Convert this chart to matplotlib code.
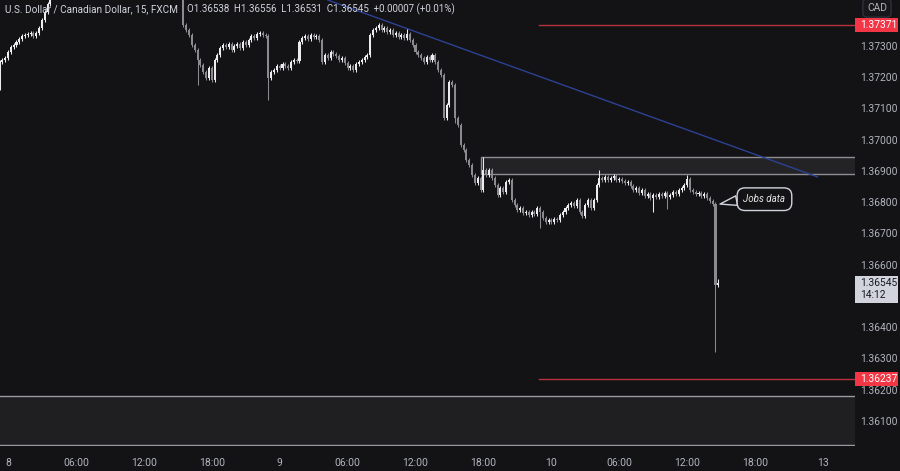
import numpy as np
import matplotlib
matplotlib.use("Agg")
import matplotlib.pyplot as plt
from matplotlib.patches import Rectangle

plt.rcParams['font.family'] = ['Roboto', 'DejaVu Sans']

# ------------------------------------------------------------------ data
# 15-minute USDCAD candles; bar index 0 = day "8" 00:00, 96 bars per day
first_bar = -3
closes_day8 = [1.37252, 1.37258, 1.37264, 1.37284, 1.37300, 1.37306, 1.37316, 1.37325,
               1.37335, 1.37338, 1.37341, 1.37344, 1.37335, 1.37344, 1.37360, 1.37386,
               1.37412, 1.37437, 1.37460]
hidden_bars = 46          # bars trading above the visible price range
closes_rest = [
    1.37370, 1.37354, 1.37338, 1.37306, 1.37290, 1.37258, 1.37242, 1.37220, 1.37200, 1.37232,
    1.37194, 1.37258, 1.37274, 1.37296, 1.37306, 1.37300, 1.37309, 1.37290, 1.37303, 1.37309,
    1.37296, 1.37316, 1.37306, 1.37322, 1.37335, 1.37328, 1.37341, 1.37344, 1.37338, 1.37335,
    1.37200, 1.37220, 1.37226, 1.37239, 1.37232, 1.37245, 1.37239, 1.37232, 1.37252, 1.37258,
    1.37255, 1.37316, 1.37328, 1.37335, 1.37325, 1.37338, 1.37332, 1.37335, 1.37322, 1.37252,
    1.37274, 1.37264, 1.37284, 1.37277, 1.37271, 1.37258, 1.37264, 1.37248, 1.37232, 1.37239,
    1.37226, 1.37245, 1.37252, 1.37258, 1.37268, 1.37274, 1.37338, 1.37354, 1.37360, 1.37370,
    1.37354, 1.37360, 1.37348, 1.37354, 1.37338, 1.37344, 1.37332, 1.37338, 1.37328, 1.37341,
    1.37322, 1.37306, 1.37284, 1.37274, 1.37264, 1.37252, 1.37268, 1.37258, 1.37274, 1.37252,
    1.37226, 1.37210, 1.37072, 1.37114, 1.37188, 1.37178, 1.37072, 1.37050, 1.36986, 1.36970,
    1.36938, 1.36922, 1.36890, 1.36864, 1.36880, 1.36842, 1.36906, 1.36890, 1.36906, 1.36880,
    1.36858, 1.36826, 1.36848, 1.36836, 1.36868, 1.36874, 1.36810, 1.36794, 1.36778, 1.36784,
    1.36768, 1.36772, 1.36762, 1.36772, 1.36765, 1.36784, 1.36772, 1.36752, 1.36740, 1.36746,
    1.36740, 1.36749, 1.36746, 1.36762, 1.36772, 1.36784, 1.36794, 1.36800, 1.36791, 1.36810,
    1.36772, 1.36759, 1.36794, 1.36810, 1.36784, 1.36810, 1.36858, 1.36880, 1.36874, 1.36884,
    1.36874, 1.36880, 1.36887, 1.36874, 1.36877, 1.36871, 1.36864, 1.36868, 1.36855, 1.36842,
    1.36848, 1.36832, 1.36842, 1.36823, 1.36829, 1.36816, 1.36826, 1.36820, 1.36829, 1.36823,
    1.36832, 1.36820, 1.36826, 1.36836, 1.36829, 1.36842, 1.36848, 1.36858, 1.36877, 1.36842,
    1.36836, 1.36829, 1.36832, 1.36823, 1.36829, 1.36816, 1.36806, 1.36797, 1.36538, 1.36545,
]
open_override = {-3: 1.37242, 62: 1.37480}
high_override = {62: 1.37490, 141: 1.37357, 168: 1.36948, 209: 1.36906, 240: 1.36890,
                 251: 1.36556}
low_override = {-3: 1.37162, 67: 1.37178, 92: 1.37130, 158: 1.37056, 188: 1.36720,
                228: 1.36772, 233: 1.36781, 250: 1.36324, 251: 1.36531}
default_wick = 0.00006

tick_bars = [0, 24, 48, 72, 96, 120, 144, 168, 192, 216, 240, 264, 288]
tick_labels = ["8", "06:00", "12:00", "18:00", "9", "06:00", "12:00", "18:00",
               "10", "06:00", "12:00", "18:00", "13"]
price_ticks = [1.373, 1.372, 1.371, 1.370, 1.369, 1.368, 1.367, 1.366,
               1.364, 1.363, 1.362, 1.361]

trend_start = (113.0, 1.37450)
trend_end = (286.0, 1.36884)
zone_start_bar = 167.0
zone_top, zone_bottom = 1.36948, 1.36894
lower_zone_top, lower_zone_bottom = 1.36183, 1.36025
red_levels = [1.37371, 1.36237]
red_start_bar = 187.6
symbol_title = "U.S. Dollar / Canadian Dollar, 15, FXCM"
countdown = "14:12"
currency = "CAD"

# ------------------------------------------------------------------ build OHLC
closes = np.array(closes_day8 + [np.nan] * hidden_bars + closes_rest)
bars = np.arange(first_bar, first_bar + len(closes))
opens = np.empty_like(closes)
prev = np.nan
for k, (b, c) in enumerate(zip(bars, closes)):
    opens[k] = open_override.get(int(b), prev)
    prev = c
highs = np.array([high_override.get(int(b), max(o, c) + default_wick)
                  for b, o, c in zip(bars, opens, closes)])
lows = np.array([low_override.get(int(b), min(o, c) - default_wick)
                 for b, o, c in zip(bars, opens, closes)])

# ------------------------------------------------------------------ style
BG = "#131316"
UP = "#ececef"
DOWN = "#8a8a8f"
AXIS_TXT = "#b2b5be"
W, H = 900, 471
plot_w, axis_h = 855, 25

fig = plt.figure(figsize=(W / 100, H / 100), dpi=100, facecolor=BG)
ax = fig.add_axes([0, axis_h / H, plot_w / W, 1 - axis_h / H])
ax.set_facecolor(BG)
ymax = 1.37450
ymin = ymax - (H - axis_h) * 0.000032
ax.set_ylim(ymin, ymax)
ax.set_xlim(-2.83, 299.3)
for s in ax.spines.values():
    s.set_visible(False)
ax.set_yticks([])
ax.set_xticks(tick_bars)
ax.set_xticklabels(tick_labels)
ax.tick_params(axis='x', length=0, pad=9, labelsize=7.5, labelcolor=AXIS_TXT)

# zones
ax.add_patch(Rectangle((zone_start_bar, zone_bottom), 400, zone_top - zone_bottom,
                       facecolor="#232326", edgecolor="#8e8e93", lw=1, zorder=1))
ax.add_patch(Rectangle((-10, lower_zone_bottom), 400, lower_zone_top - lower_zone_bottom,
                       facecolor="#1f1f22", edgecolor="#9a9a9e", lw=1, zorder=1))

# red levels
for lv in red_levels:
    ax.plot([red_start_bar, 400], [lv, lv], color="#b8313f", lw=1, zorder=2)

# trendline
ax.plot([trend_start[0], trend_end[0]], [trend_start[1], trend_end[1]],
        color="#2c4192", lw=1, zorder=2)

# candles
vis = ~np.isnan(closes)
up = vis & (closes >= opens)
dn = vis & (closes < opens)
for mask, col in ((up, UP), (dn, DOWN)):
    b = bars[mask]
    o = opens[mask]
    c = closes[mask]
    bottom = np.minimum(o, c)
    height = np.maximum(np.abs(c - o), 0.00002)
    ax.vlines(b, lows[mask], highs[mask], color=col, lw=0.75, zorder=3)
    ax.bar(b, height, bottom=bottom, width=0.72, color=col, lw=0, zorder=4)

# callout
ax.annotate("Jobs data", xy=(bars[-2] + 1.6, closes[-3]), xytext=(32, 3.5),
            textcoords="offset points", ha="center", va="center",
            fontsize=7, style="italic", color="#e6e6e9",
            bbox=dict(boxstyle="round,pad=0.65,rounding_size=0.8", fc=BG, ec="#d1d4dc", lw=1),
            arrowprops=dict(arrowstyle="wedge,tail_width=1.0,shrink_factor=0.5",
                            fc=BG, ec="#d1d4dc", lw=1, relpos=(0.0, 0.5),
                            shrinkA=0, shrinkB=0),
            zorder=6)

# header
last_o, last_h, last_l, last_c = opens[-1], highs[-1], lows[-1], closes[-1]
chg = last_c - closes[-2]
fig.text(5 / W, 1 - 9 / H, symbol_title, color="#d1d4dc", fontsize=7.2, va="center")
hdr = (f"O{last_o:.5f}  H{last_h:.5f}  L{last_l:.5f}  C{last_c:.5f}  "
       f"{chg:+.5f} ({chg / closes[-2] * 100:+.2f}%)")
fig.text(187 / W, 1 - 9 / H, hdr, color="#d1d4dc", fontsize=7.0, va="center")

# price scale
ax2 = fig.add_axes([plot_w / W, axis_h / H, 1 - plot_w / W, 1 - axis_h / H])
ax2.set_facecolor(BG)
ax2.set_ylim(ymin, ymax)
ax2.set_xlim(0, W - plot_w)
ax2.axis("off")
for p in price_ticks:
    ax2.text(5, p, f"{p:.5f}", color=AXIS_TXT, fontsize=7.4, va="center", ha="left")
px = 0.000032
for lv in red_levels:
    ax2.add_patch(Rectangle((0, lv - 7 * px), 43, 14 * px, facecolor="#f23645", lw=0, zorder=5))
    ax2.text(5, lv, f"{lv:.5f}", color="white", fontsize=7.4, va="center", ha="left", zorder=6)
ax2.add_patch(Rectangle((0, last_c - 20 * px), 43, 27 * px, facecolor="#d1d4dc", lw=0, zorder=5))
ax2.text(5, last_c, f"{last_c:.5f}", color="#131722", fontsize=7.4, va="center", ha="left", zorder=6)
ax2.text(5, last_c - 12.5 * px, countdown, color="#131722", fontsize=7.4, va="center", ha="left", zorder=6)
ax2.text(22, ymax - 8 * px, currency, color=AXIS_TXT, fontsize=7.4, va="center", ha="center",
         bbox=dict(boxstyle="round,pad=0.4", fc="#18181b", ec="#2f3038", lw=1))

fig.savefig("out.png", dpi=100, facecolor=BG)
